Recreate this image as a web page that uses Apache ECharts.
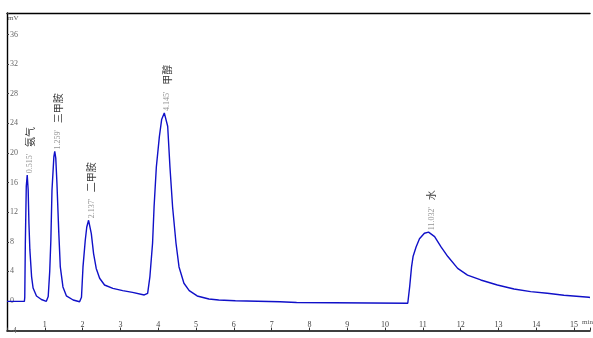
<!DOCTYPE html>
<html><head><meta charset="utf-8">
<script src="https://cdn.jsdelivr.net/npm/echarts@6/dist/echarts.min.js"></script>
<style>html,body{margin:0;padding:0;background:#fff}#c{width:593px;height:338px}</style>
</head><body><div id="c"></div>
<script>
// chromatogram trace: time (min) and signal (mV)
const traceTime = [0,0.46,0.47,0.485,0.51,0.535,0.56,0.58,0.605,0.65,0.69,0.78,0.91,1.04,1.09,1.13,1.16,1.19,1.24,1.263,1.29,1.32,1.37,1.41,1.48,1.57,1.75,1.92,1.97,2.01,2.07,2.11,2.158,2.23,2.29,2.36,2.45,2.58,2.80,3.06,3.32,3.63,3.72,3.78,3.85,3.89,3.95,4.03,4.09,4.16,4.25,4.31,4.38,4.47,4.55,4.68,4.82,5.03,5.34,5.6,6.04,6.06,7.22,7.24,7.66,7.68,10.6,10.65,10.70,10.74,10.82,10.91,11.04,11.15,11.31,11.48,11.66,11.92,12.18,12.53,12.97,13.41,13.85,14.29,14.73,15.39,15.42];
const traceSignal = [-0.05,-0.05,0.5,7.8,15.5,17.0,15,10.5,6.9,3.3,1.75,0.68,0.2,-0.05,0.6,4,8.2,15,19.5,20.2,19.3,16,9.2,4.6,1.9,0.7,0.13,-0.1,0.5,4.6,8.2,10.0,10.9,9.1,6.4,4.4,3.07,2.16,1.7,1.4,1.17,0.81,1.04,3.3,7.8,12.7,18.1,22.2,24.5,25.4,23.6,18.1,12.7,7.8,4.6,2.4,1.4,0.68,0.27,0.13,0.04,-0.1,-0.1,-0.2,-0.2,-0.3,-0.3,1.9,4.6,6.0,7.3,8.4,9.15,9.3,8.7,7.3,6.0,4.4,3.5,2.84,2.16,1.62,1.26,1.04,0.77,0.5,0.48];
// peak annotations
const peakApexTime = [0.535,1.263,2.158,4.16,11.15];
const peakApexSignal = [17.0,20.2,10.9,25.4,9.3];
const peakRetention = ["0.515'","1.259'","2.137'","4.145'","11.032'"];
const peakNames = ["氨气","三甲胺","二甲胺","甲醇","水"];
const xTicks = [1,2,3,4,5,6,7,8,9,10,11,12,13,14,15];
const yTicks = [-4,0,4,8,12,16,20,24,28,32,36];

const chart = echarts.init(document.getElementById('c'));
const serif = '"Liberation Serif","DejaVu Serif",serif';
chart.setOption({
  animation:false,
  backgroundColor:'#fff',
  grid:{left:7,right:0,top:13,bottom:7.4,containLabel:false},
  xAxis:[{
    type:'value',min:0,max:15.42,interval:1,position:'bottom',
    axisLine:{show:true,onZero:false,lineStyle:{color:'#000',width:1.6}},
    axisTick:{inside:true,length:3,lineStyle:{color:'#333'}},
    axisLabel:{inside:true,margin:2,color:'#444',fontSize:8,fontFamily:serif,
      formatter:v=>xTicks.indexOf(v)>=0?String(v):''},
    splitLine:{show:false}
  },{
    type:'value',min:0,max:15.42,position:'top',
    axisLine:{show:true,onZero:false,lineStyle:{color:'#000',width:1.4}},
    axisTick:{show:false},axisLabel:{show:false},splitLine:{show:false}
  }],
  yAxis:{
    type:'value',min:-4,max:38.9,interval:4,
    axisLine:{show:true,onZero:false,lineStyle:{color:'#000',width:1.4}},
    axisTick:{show:true,inside:true,length:2,lineStyle:{color:'#333'}},
    axisLabel:{inside:true,margin:3,color:'#666',fontSize:8,fontFamily:serif,
      formatter:v=>yTicks.indexOf(v)>=0?String(v):''},
    splitLine:{show:false}
  },
  series:[{
    type:'line',xAxisIndex:0,showSymbol:false,
    data:traceTime.map((t,i)=>[t,traceSignal[i]]),
    lineStyle:{color:'#1010c8',width:1.4}
  },{
    type:'scatter',xAxisIndex:0,symbolSize:0,
    data:peakApexTime.map((t,i)=>[t,peakApexSignal[i]]),
    label:{show:true,position:'top',rotate:90,align:'left',verticalAlign:'middle',
      distance:2,offset:[0,3],
      formatter:p=>'{t|'+peakRetention[p.dataIndex]+'}  {n|'+peakNames[p.dataIndex]+'}',
      rich:{t:{fontSize:8,color:'#777',fontFamily:serif},
            n:{fontSize:10,color:'#000',fontFamily:'"Noto Sans CJK SC",serif'}}}
  }],
  graphic:[
    {type:'text',left:8,top:15,style:{text:'mV',fontSize:7,fill:'#555',fontFamily:serif}},
    {type:'text',right:0,top:319,style:{text:'min',fontSize:7,fill:'#555',fontFamily:serif}}
  ]
});
</script></body></html>
